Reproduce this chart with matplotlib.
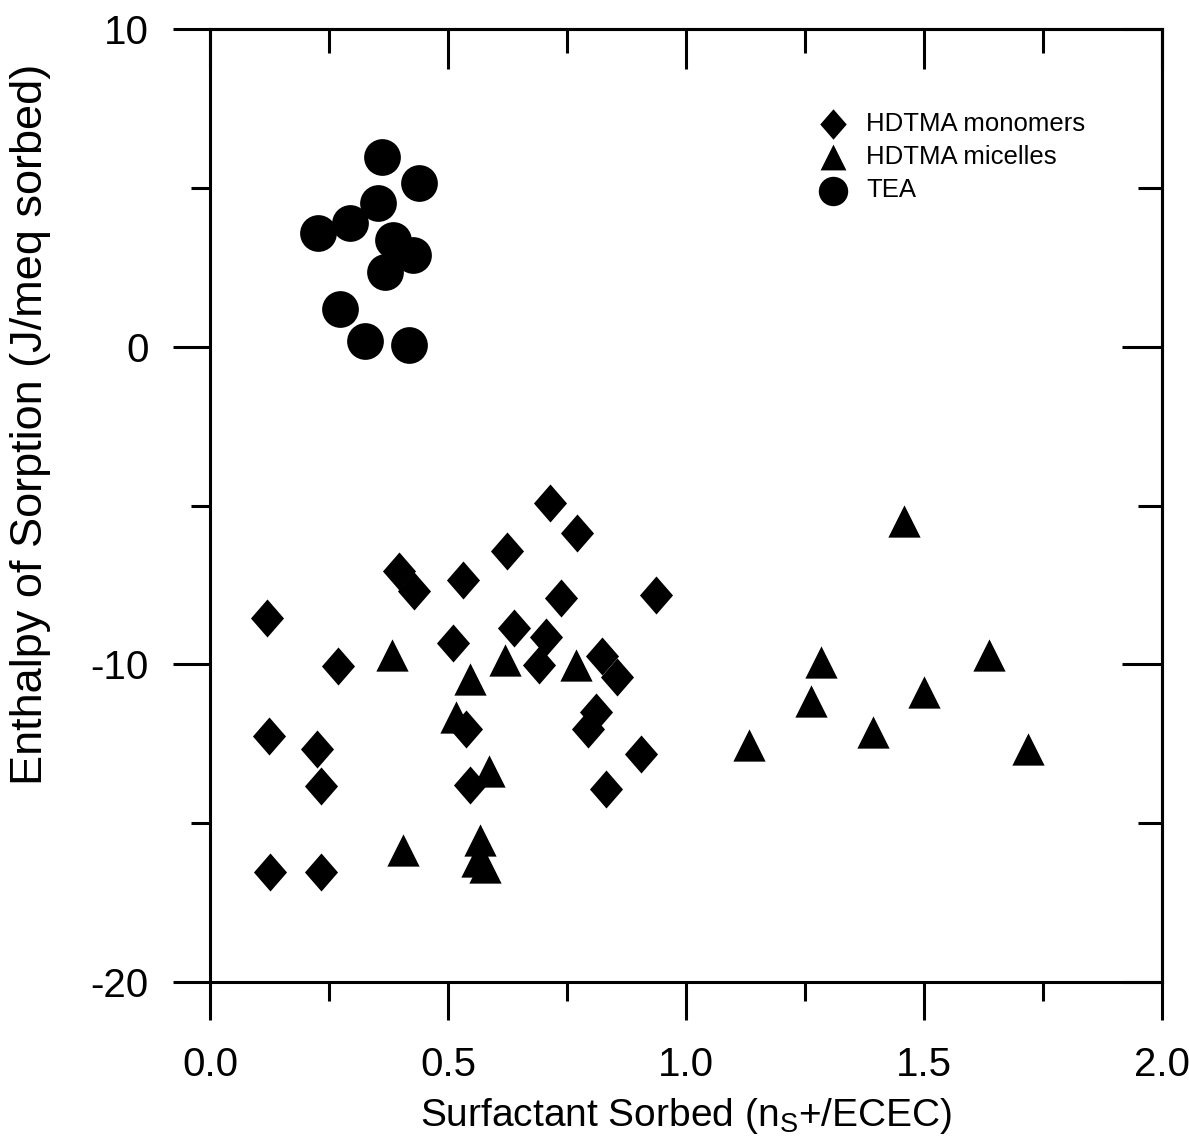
import matplotlib
matplotlib.use("Agg")
import matplotlib.pyplot as plt
import numpy as np
from matplotlib.ticker import MultipleLocator, FormatStrFormatter

# ---------------------
# Data
# ---------------------
mono_x = [0.119, 0.269, 0.123, 0.225, 0.233, 0.125, 0.233, 0.398, 0.428, 0.531,
          0.623, 0.715, 0.772, 0.738, 0.936, 0.510, 0.639, 0.706, 0.691, 0.824,
          0.854, 0.810, 0.794, 0.537, 0.905, 0.547, 0.831]
mono_y = [-8.55, -10.05, -12.25, -12.68, -13.82, -16.54, -16.54, -7.05, -7.70, -7.34,
          -6.43, -4.93, -5.85, -7.91, -7.81, -9.32, -8.86, -9.14, -10.03, -9.74,
          -10.40, -11.49, -12.02, -12.02, -12.82, -13.79, -13.92]

mic_x = [0.382, 0.546, 0.619, 0.768, 0.517, 0.586, 0.406, 0.567, 0.560, 0.578,
         1.458, 1.284, 1.263, 1.637, 1.501, 1.392, 1.132, 1.719]
mic_y = [-9.72, -10.45, -9.87, -10.03, -11.65, -13.37, -15.84, -15.53, -16.20, -16.37,
         -5.50, -9.94, -11.16, -9.71, -10.86, -12.14, -12.54, -12.65]

tea_x = [0.361, 0.440, 0.352, 0.294, 0.226, 0.385, 0.427, 0.368, 0.273, 0.326, 0.418]
tea_y = [5.96, 5.16, 4.53, 3.90, 3.57, 3.36, 2.89, 2.36, 1.19, 0.19, 0.04]

labels = ["HDTMA monomers", "HDTMA micelles", "TEA"]

# ---------------------
# Style
# ---------------------
plt.rcParams["font.family"] = ["Liberation Sans", "DejaVu Sans"]
plt.rcParams["mathtext.fontset"] = "custom"
plt.rcParams["mathtext.rm"] = "Liberation Sans"
plt.rcParams["axes.unicode_minus"] = False

diamond = [(0, 1), (0.87, 0), (0, -1), (-0.87, 0), (0, 1)]

fig = plt.figure(figsize=(11.89, 11.40), dpi=100)
ax = fig.add_axes([210 / 1189, 1 - 982 / 1140, 952 / 1189, 953 / 1140])

ax.scatter(mono_x, mono_y, marker=diamond, s=750, color="black", linewidths=0, label=labels[0])
ax.scatter(mic_x, mic_y, marker="^", s=540, color="black", linewidths=0, label=labels[1])
ax.scatter(tea_x, tea_y, marker="o", s=700, color="black", linewidths=0, label=labels[2])

ax.set_xlim(0, 2.0)
ax.set_ylim(-20, 10)
ax.xaxis.set_major_locator(MultipleLocator(0.5))
ax.xaxis.set_minor_locator(MultipleLocator(0.25))
ax.yaxis.set_major_locator(MultipleLocator(10))
ax.yaxis.set_minor_locator(MultipleLocator(5))
ax.xaxis.set_major_formatter(FormatStrFormatter("%.1f"))

for sp in ax.spines.values():
    sp.set_linewidth(2.2)

# outward ticks on bottom/left
ax.tick_params(which="major", direction="out", length=27, width=2.2, labelsize=29)
ax.tick_params(axis="x", which="major", pad=19)
ax.tick_params(axis="y", which="major", pad=17)
ax.tick_params(which="minor", direction="out", length=14, width=2.2)

# inward ticks on top/right
top = ax.secondary_xaxis("top")
top.xaxis.set_major_locator(MultipleLocator(0.5))
top.xaxis.set_minor_locator(MultipleLocator(0.25))
top.tick_params(which="major", direction="in", length=29, width=2.2, labeltop=False)
top.tick_params(which="minor", direction="in", length=17, width=2.2)
top.spines["top"].set_linewidth(2.2)
right = ax.secondary_yaxis("right")
right.yaxis.set_major_locator(MultipleLocator(10))
right.yaxis.set_minor_locator(MultipleLocator(5))
right.tick_params(which="major", direction="in", length=29, width=2.2, labelright=False)
right.tick_params(which="minor", direction="in", length=17, width=2.2)
right.spines["right"].set_linewidth(2.2)

ax.set_xlabel(r"Surfactant Sorbed (n$_{\mathrm{S}}$+/ECEC)", fontsize=28)
ax.set_ylabel("Enthalpy of Sorption (J/meq sorbed)", fontsize=32.5)
ax.xaxis.set_label_coords(0.5, -0.120)
ax.yaxis.set_label_coords(-0.167, 0.585)

ax.legend(loc="upper left", bbox_to_anchor=(0.641, 0.913), frameon=False, fontsize=18.5,
          handlelength=1.0, handletextpad=0.8, labelspacing=0.36, borderpad=0,
          borderaxespad=0, markerscale=0.8)

fig.savefig("out.png", dpi=100)
